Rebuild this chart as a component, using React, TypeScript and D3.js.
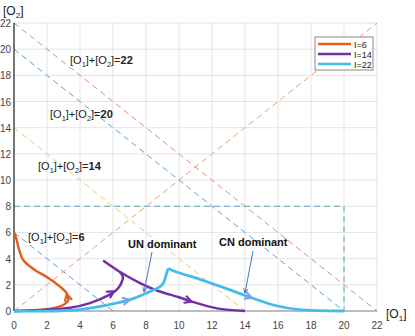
import React from "react";
import * as d3 from "d3";

const xTicks = [0, 2, 4, 6, 8, 10, 12, 14, 16, 18, 20, 22];
const yTicks = [0, 2, 4, 6, 8, 10, 12, 14, 16, 18, 20, 22];
const sumValues = [22, 20, 14, 6];
const seriesNames = ["I=6", "I=14", "I=22"];

const orangeCurve: [number, number][] = [
  [0, 6], [0.15, 5.5], [0.26, 4.9], [0.56, 3.9], [1.27, 3.13], [2.08, 2.52], [2.79, 1.86],
  [3.19, 1.37], [3.29, 0.84], [2.99, 0.46], [2.28, 0.2], [1.27, 0.05], [0, 0],
];
const purpleUpper: [number, number][] = [
  [5.4, 3.85], [6.4, 3.0], [7.7, 2.1], [8.7, 1.55], [10.0, 1.05], [10.7, 0.75], [12.3, 0.2], [14, 0],
];
const purpleLower: [number, number][] = [
  [0, 0], [3.4, 0.25], [4.6, 0.6], [5.8, 1.25], [6.2, 1.6], [6.45, 2.0], [6.6, 2.6], [6.4, 3.0],
];
const blueLower: [number, number][] = [
  [0, 0], [3.4, 0.05], [5.4, 0.4], [7.0, 0.85], [8.0, 1.35], [8.85, 1.87], [9.05, 2.12], [9.25, 2.88], [9.35, 3.25],
];
const blueUpper: [number, number][] = [
  [9.35, 3.25], [9.86, 2.98], [11.27, 2.42], [12.68, 1.8], [14.3, 1.05], [15.9, 0.4], [17.3, 0.1], [20, 0],
];
const arrows: { at: [number, number]; from: [number, number]; s: number }[] = [
  { at: [3.2, 1.3], from: [3.29, 0.84], s: 0 },
  { at: [6.05, 1.5], from: [5.5, 1.08], s: 1 },
  { at: [10.75, 0.72], from: [10.0, 1.05], s: 1 },
  { at: [7.0, 0.85], from: [5.6, 0.44], s: 2 },
  { at: [14.4, 1.02], from: [12.68, 1.8], s: 2 },
];

const W = 415, H = 336;
const x = d3.scaleLinear().domain([0, 22]).range([14, 377]);
const y = d3.scaleLinear().domain([0, 22]).range([311, 23]);

const COLORS = ["#e2601e", "#7330a3", "#45bde9"];
const ARROW_COLORS = ["#e2601e", "#7330a3", "#8c9be6"];
const SUM_COLORS: Record<number, string> = { 22: "#d98a90", 20: "#5aa2d2", 14: "#e6cc6a", 6: "#5b9bd5" };
const FONT = "'Liberation Sans', Arial, sans-serif";

const line = d3.line<[number, number]>().x(d => x(d[0])).y(d => y(d[1])).curve(d3.curveCatmullRom.alpha(0.5));

function Arrowhead({ at, from, color }: { at: [number, number]; from: [number, number]; color: string }) {
  const px = x(at[0]), py = y(at[1]);
  const ang = Math.atan2(py - y(from[1]), px - x(from[0]));
  const L = 7, a = 0.5;
  const p1 = [px - L * Math.cos(ang - a), py - L * Math.sin(ang - a)];
  const p2 = [px - L * Math.cos(ang + a), py - L * Math.sin(ang + a)];
  return (
    <path d={`M${p1[0]},${p1[1]}L${px},${py}L${p2[0]},${p2[1]}`} fill="none" stroke={color} strokeWidth={2.2} strokeLinejoin="round" strokeLinecap="round" />
  );
}

function SumLabel({ xp, yp, v }: { xp: number; yp: number; v: number }) {
  return (
    <text x={xp} y={yp} fontFamily={FONT} fontSize={11} fill="#222">
      <tspan>[O</tspan>
      <tspan fontSize={7.5} dy={3}>1</tspan>
      <tspan dy={-3}>]+[O</tspan>
      <tspan fontSize={7.5} dy={3}>2</tspan>
      <tspan dy={-3}>]=</tspan>
      <tspan fontWeight="bold">{v}</tspan>
    </text>
  );
}

function Pointer({ x1, y1, x2, y2 }: { x1: number; y1: number; x2: number; y2: number }) {
  const ang = Math.atan2(y2 - y1, x2 - x1);
  const L = 5, a = 0.45;
  return (
    <g stroke="#4a72c8" strokeWidth={1} fill="none">
      <line x1={x1} y1={y1} x2={x2} y2={y2} />
      <path d={`M${x2 - L * Math.cos(ang - a)},${y2 - L * Math.sin(ang - a)}L${x2},${y2}L${x2 - L * Math.cos(ang + a)},${y2 - L * Math.sin(ang + a)}`} />
    </g>
  );
}

export default function App() {
  const labelPos: Record<number, [number, number]> = { 22: [70, 64], 20: [50, 118], 14: [38, 170], 6: [28, 241] };
  return (
    <svg width={W} height={H} style={{ position: "absolute", left: 0, top: 0, background: "#fff" }}>
      {xTicks.map(t => (
        <line key={"gx" + t} x1={x(t)} x2={x(t)} y1={y(0)} y2={y(22)} stroke="#e4e4e4" strokeWidth={1} />
      ))}
      {yTicks.map(t => (
        <line key={"gy" + t} x1={x(0)} x2={x(22)} y1={y(t)} y2={y(t)} stroke="#e4e4e4" strokeWidth={1} />
      ))}
      {sumValues.map(v => (
        <line key={"s" + v} x1={x(0)} y1={y(v)} x2={x(v)} y2={y(0)} stroke={SUM_COLORS[v]} strokeWidth={1} strokeDasharray="6,4" />
      ))}
      <line x1={x(0)} y1={y(0)} x2={x(22)} y2={y(22)} stroke="#e0a27a" strokeWidth={1} strokeDasharray="6,4" />
      <path d={`M${x(0)},${y(8)}L${x(20)},${y(8)}L${x(20)},${y(0)}`} fill="none" stroke="#5fa4b8" strokeWidth={1} strokeDasharray="6,4" />
      <line x1={x(0)} x2={x(22)} y1={y(0)} y2={y(0)} stroke="#888" strokeWidth={1.2} />
      <line x1={x(0)} x2={x(0)} y1={y(0)} y2={y(22)} stroke="#222" strokeWidth={1.2} />
      {xTicks.map(t => (
        <text key={"tx" + t} x={x(t)} y={329} textAnchor="middle" fontFamily={FONT} fontSize={10} fill="#444">{t}</text>
      ))}
      {yTicks.map(t => (
        <text key={"ty" + t} x={11} y={y(t) + 4} textAnchor="end" fontFamily={FONT} fontSize={10} fill="#444">{t}</text>
      ))}
      <text x={3} y={15} fontFamily={FONT} fontSize={12} fill="#222">
        [O<tspan fontSize={8} dy={3}>2</tspan><tspan dy={-3}>]</tspan>
      </text>
      <text x={386} y={318} fontFamily={FONT} fontSize={12} fill="#222">
        [O<tspan fontSize={8} dy={3}>1</tspan><tspan dy={-3}>]</tspan>
      </text>
      {sumValues.map(v => (
        <SumLabel key={"l" + v} xp={labelPos[v][0]} yp={labelPos[v][1]} v={v} />
      ))}
      <path d={line(orangeCurve) || ""} fill="none" stroke={COLORS[0]} strokeWidth={2.5} />
      <path d={line(purpleUpper) || ""} fill="none" stroke={COLORS[1]} strokeWidth={2.5} />
      <path d={line(purpleLower) || ""} fill="none" stroke={COLORS[1]} strokeWidth={2.5} />
      <path d={line(blueLower) || ""} fill="none" stroke={COLORS[2]} strokeWidth={2.8} />
      <path d={line(blueUpper) || ""} fill="none" stroke={COLORS[2]} strokeWidth={2.8} />
      {arrows.map((a, i) => (
        <Arrowhead key={"a" + i} at={a.at} from={a.from} color={ARROW_COLORS[a.s]} />
      ))}
      <text x={128} y={248} fontFamily={FONT} fontSize={11} fontWeight="bold" fill="#111">UN dominant</text>
      <text x={219} y={246} fontFamily={FONT} fontSize={11} fontWeight="bold" fill="#111">CN dominant</text>
      <Pointer x1={152} y1={252} x2={144} y2={292} />
      <Pointer x1={253} y1={251} x2={245} y2={293} />
      <rect x={315} y={37} width={58} height={33} fill="#fff" stroke="#888" strokeWidth={1} />
      {seriesNames.map((n, i) => (
        <g key={n}>
          <line x1={318} x2={351} y1={44 + i * 10} y2={44 + i * 10} stroke={COLORS[i]} strokeWidth={2.5} />
          <text x={354} y={47.5 + i * 10} fontFamily={FONT} fontSize={9} fill="#222">{n}</text>
        </g>
      ))}
    </svg>
  );
}
